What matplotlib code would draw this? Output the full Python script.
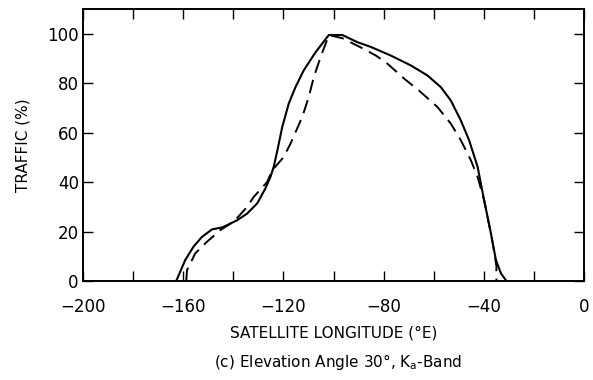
import matplotlib
matplotlib.use("Agg")
import matplotlib.pyplot as plt

plt.rcParams['font.family'] = ['DejaVu Sans']

# Solid curve
solid_lon = [-162.8, -159.2, -155.9, -152.5, -148.5, -144.5, -142.5, -138.5, -134.5, -130.5,
             -127.2, -125.2, -123.9, -122.5, -120.5, -117.9, -115.2, -111.9, -107.2, -101.9,
             -96.5, -90.5, -85.2, -77.2, -69.2, -62.5, -57.2, -53.2, -49.2, -45.9, -42.5,
             -39.9, -37.2, -35.2, -33.2, -31.0]
solid_traffic = [0, 8.5, 13.9, 17.9, 20.9, 21.7, 22.6, 24.6, 27.3, 31.4,
                 37.5, 42.1, 46.2, 52.5, 62.3, 71.8, 78.5, 85.3, 92.6, 99.6,
                 99.6, 96.7, 94.8, 91.3, 87.3, 83.2, 78.5, 73.1, 65, 57, 46.2,
                 32.7, 19.3, 8.5, 3.1, 0]

# Dashed curve
dash_lon = [-158.8, -158.5, -155.2, -150.5, -145.2, -141.5, -138.5, -134.5, -131.9, -126.5,
            -124.5, -119.9, -117.2, -112.5, -109.9, -107.9, -105.2, -102.5, -101.9,
            -96.5, -88.0, -83.0, -78.5, -71.9, -65.2, -58.5, -53.2, -49.2, -45.2, -42.5,
            -39.9, -37.2, -35.6, -35.0, -35.0]
dash_traffic = [0, 4.4, 11.2, 15.9, 20.6, 23.0, 25.5, 30.0, 34.0, 40.1,
                44.8, 50.2, 55.6, 66.4, 74.5, 82.5, 90.6, 97.9, 99.6,
                98.3, 94.0, 91.2, 88.0, 82.0, 76.5, 70.4, 63.7, 57.0, 48.9, 42.1,
                32.7, 19.3, 10.0, 6.0, 0]

xticks = [-200, -160, -120, -80, -40, 0]
xtick_labels = ['\u2212200', '\u2212160', '\u2212120', '\u221280', '\u221240', '0']
yticks = [0, 20, 40, 60, 80, 100]

fig = plt.figure(figsize=(5.93, 3.80), dpi=100)
ax = fig.add_axes([0.140, 0.2605, 0.845, 0.715])

ax.plot(solid_lon, solid_traffic, color='black', lw=1.5, solid_joinstyle='round')
ax.plot(dash_lon, dash_traffic, color='black', lw=1.4, dashes=(7, 3.8))

ax.set_xlim(-200, 0)
ax.set_ylim(0, 110)
ax.set_xticks(xticks)
ax.set_xticklabels(xtick_labels)
ax.set_xticks(list(range(-180, 0, 40)), minor=True)
ax.set_yticks(yticks)
ax.tick_params(axis='both', which='both', direction='in', top=True, right=True,
               length=7, width=1, labelsize=12)
ax.tick_params(axis='x', which='major', pad=12)
ax.tick_params(axis='y', which='major', pad=3)
for s in ax.spines.values():
    s.set_linewidth(1.4)

ax.set_xlabel('SATELLITE LONGITUDE (\u00b0E)', fontsize=11, labelpad=7)
ax.set_ylabel('TRAFFIC (%)', fontsize=11, labelpad=12)
fig.text(0.57, 0.047, '(c) Elevation Angle 30\u00b0, K$_\\mathregular{a}$-Band',
         ha='center', va='center', fontsize=11)

fig.savefig('out.png', dpi=100)
